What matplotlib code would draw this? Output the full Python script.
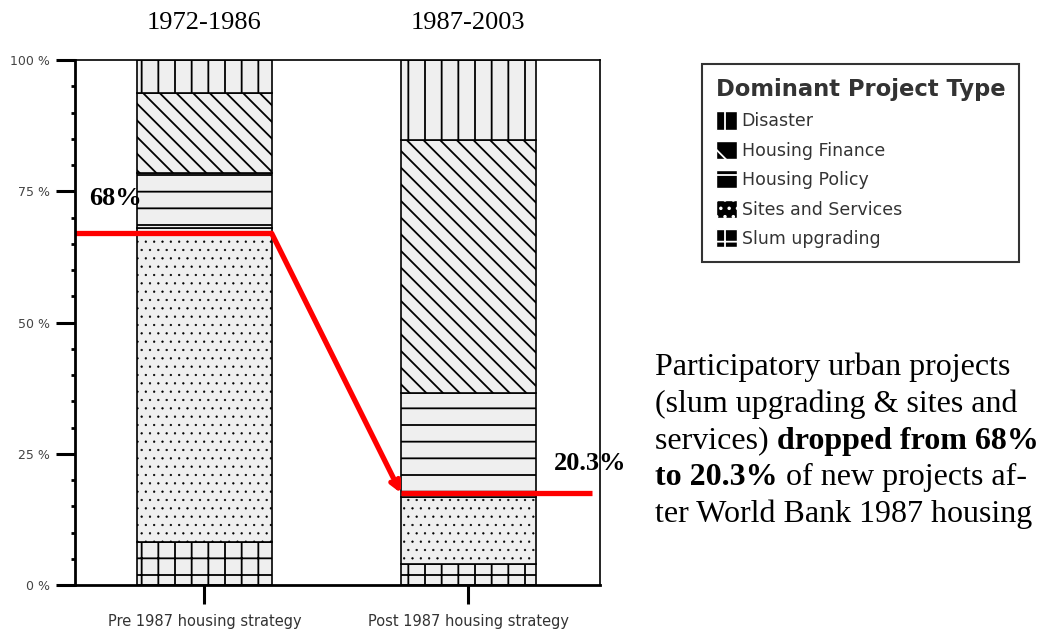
import matplotlib
matplotlib.use("Agg")
import matplotlib.pyplot as plt
from matplotlib.patches import Patch
from matplotlib.ticker import MultipleLocator, FuncFormatter

# Share of new projects by dominant type (%)
strategies = ["Pre 1987 housing strategy", "Post 1987 housing strategy"]
periods = ["1972-1986", "1987-2003"]
slum_upgrading = [8.2, 4.0]
sites_services = [59.8, 12.8]
housing_policy = [10.5, 19.8]
housing_finance = [15.2, 48.2]
disaster = [6.3, 15.2]

# red trend line levels and their labels
trend_levels = [67.0, 17.5]
trend_labels = ["68%", "20.3%"]

plt.rcParams["hatch.linewidth"] = 1.3
serif = ["Liberation Serif", "DejaVu Serif"]

fig = plt.figure(figsize=(10.42, 6.33), dpi=100)
ax = fig.add_axes([0.072, 0.0758, 0.504, 0.8294])

x = [0, 1]
width = 0.51
fill = "#efefef"
layers = [
    (slum_upgrading, "+", "Slum upgrading"),
    (sites_services, "..", "Sites and Services"),
    (housing_policy, "-", "Housing Policy"),
    (housing_finance, "\\\\", "Housing Finance"),
    (disaster, "|", "Disaster"),
]
bottom = [0.0, 0.0]
for vals, hatch, name in layers:
    bars = ax.bar(x, vals, width, bottom=bottom, color=fill, edgecolor="black",
                  hatch=hatch, linewidth=1.2)
    if hatch == "..":
        for b in bars:
            if hasattr(b, "set_hatch_linewidth"):
                b.set_hatch_linewidth(0.4)
    bottom = [b + v for b, v in zip(bottom, vals)]

ax.set_xlim(-0.49, 1.5)
ax.set_ylim(0, 100)

# red trend line with arrow
left_edge = x[0] + width / 2
right_edge = x[1] - width / 2
ax.plot([-0.49, left_edge], [trend_levels[0]] * 2, color="red", lw=3.8,
        solid_capstyle="butt")
ax.annotate("", xy=(right_edge, trend_levels[1]), xytext=(left_edge, trend_levels[0]),
            arrowprops=dict(arrowstyle="->", color="red", lw=3.8,
                            mutation_scale=15, shrinkA=0, shrinkB=0))
ax.plot([right_edge, 1.47], [trend_levels[1]] * 2, color="red", lw=3.8,
        solid_capstyle="butt")
ax.text(-0.435, 73.7, trend_labels[0], fontsize=19, fontweight="bold",
        family=serif, ha="left", va="center")
ax.text(1.326, 23.2, trend_labels[1], fontsize=19, fontweight="bold",
        family=serif, ha="left", va="center")

# period labels above bars
for xi, p in zip(x, periods):
    ax.text(xi, 1.07, p, transform=ax.get_xaxis_transform(), fontsize=19,
            family=serif, ha="center", va="center")

# axes styling
ax.spines["left"].set_linewidth(2)
ax.spines["bottom"].set_linewidth(2)
ax.spines["top"].set_linewidth(1.2)
ax.spines["right"].set_linewidth(1.2)
ax.yaxis.set_major_locator(MultipleLocator(25))
ax.yaxis.set_minor_locator(MultipleLocator(5))
ax.yaxis.set_major_formatter(FuncFormatter(lambda v, pos: f"{v:.0f} %"))
ax.tick_params(axis="y", which="major", length=14, width=2.2, labelsize=9,
               labelcolor="#444444", pad=4)
ax.tick_params(axis="y", which="minor", length=3, width=2)
ax.set_xticks(x)
ax.set_xticklabels(strategies)
ax.tick_params(axis="x", length=14, width=2.2, labelsize=10.5, labelcolor="#333333", pad=7)

# legend
handles = [Patch(facecolor="black", edgecolor="white", hatch=h.replace("\\\\", "\\"), label=n)
           for _, h, n in reversed(layers)]
leg = fig.legend(handles=handles, title="Dominant Project Type",
                 loc="upper left", bbox_to_anchor=(0.6735, 0.899),
                 frameon=True, fancybox=False, edgecolor="black",
                 fontsize=12.5, title_fontproperties={"size": 16.3, "weight": "bold"},
                 handlelength=1.25, handleheight=1.25, handletextpad=0.25,
                 labelspacing=0.6, borderpad=0.8, borderaxespad=0)
leg.get_frame().set_linewidth(1.5)
leg._legend_box.align = "left"
leg.get_title().set_color("#333333")
for t in leg.get_texts():
    t.set_color("#333333")

# explanatory paragraph with bold parts
lines = [
    [("Participatory urban projects", "normal")],
    [("(slum upgrading & sites and", "normal")],
    [("services) ", "normal"), ("dropped from 68%", "bold")],
    [("to 20.3%", "bold"), (" of new projects af-", "normal")],
    [("ter World Bank 1987 housing", "normal")],
]
fig.canvas.draw()
renderer = fig.canvas.get_renderer()
H = 633
x0 = 655
baseline = 375
for parts in lines:
    xp = x0
    for txt, weight in parts:
        t = fig.text(xp / 1042, 1 - baseline / H, txt, fontsize=23,
                     family=serif, fontweight=weight, ha="left", va="baseline")
        bb = t.get_window_extent(renderer=renderer)
        xp += bb.width
    baseline += 36.8

fig.savefig("out.png", dpi=100)
